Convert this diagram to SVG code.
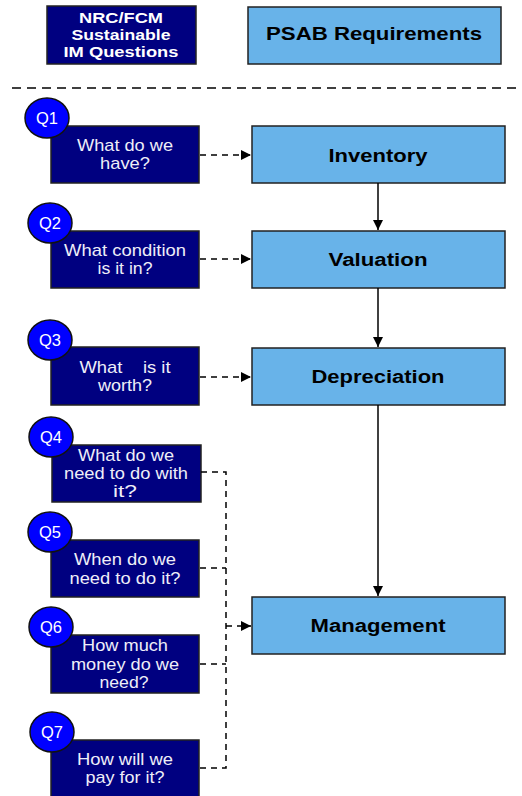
<svg xmlns="http://www.w3.org/2000/svg" width="522" height="796" viewBox="0 0 522 796">
<defs>
<marker id="ah" viewBox="0 0 10 10" refX="10" refY="5" markerWidth="10" markerHeight="10" markerUnits="userSpaceOnUse" orient="auto">
<path d="M0,0 L10,5 L0,10 Z" fill="#000"/>
</marker>
</defs>
<style>
.q rect{fill:#000080;stroke:#222;stroke-width:1.5}
.q ellipse{fill:#0000FF;stroke:#111;stroke-width:1.5}
.q text{fill:#EEEEF8;font-family:"Liberation Sans",Arial,sans-serif;font-size:17px;text-anchor:middle;white-space:pre}
.q text.n{fill:#fff;font-size:16.5px}
.h text{fill:#fff;font-family:"Liberation Sans",Arial,sans-serif;font-size:15.5px;font-weight:bold;text-anchor:middle}
.p rect{fill:#68B3E9;stroke:#222;stroke-width:1.5}
.p text{fill:#000;font-family:"Liberation Sans",Arial,sans-serif;font-size:18px;font-weight:bold;text-anchor:middle}
.d{fill:none;stroke:#000;stroke-width:1.5;stroke-dasharray:6,5}
.s{fill:none;stroke:#000;stroke-width:1.5}
</style>
<rect width="522" height="796" fill="#fff"/>
<g id="hdr-left" class="q h">
<rect x="47" y="6" width="149" height="58"/>
<text x="121" y="23" textLength="84" lengthAdjust="spacingAndGlyphs">NRC/FCM</text>
<text x="121" y="40" textLength="99" lengthAdjust="spacingAndGlyphs">Sustainable</text>
<text x="121" y="57" textLength="115" lengthAdjust="spacingAndGlyphs">IM Questions</text>
</g>
<g id="hdr-right" class="p">
<rect x="248" y="7" width="253" height="57"/>
<text x="374" y="40" textLength="216" lengthAdjust="spacingAndGlyphs">PSAB Requirements</text>
</g>
<line x1="12" y1="88" x2="522" y2="88" stroke="#000" stroke-width="1.5" stroke-dasharray="9,6"/>

<g id="q1" class="q">
<rect x="51" y="126" width="148" height="57"/>
<ellipse cx="47" cy="118" rx="22" ry="20"/>
<text class="n" x="47" y="124">Q1</text>
<text x="125" y="151" textLength="96" lengthAdjust="spacingAndGlyphs">What do we</text>
<text x="125" y="169" textLength="50" lengthAdjust="spacingAndGlyphs">have?</text>
</g>
<g id="q2" class="q">
<rect x="51" y="231" width="148" height="57"/>
<ellipse cx="50" cy="223" rx="22" ry="20"/>
<text class="n" x="50" y="229">Q2</text>
<text x="125" y="256" textLength="122" lengthAdjust="spacingAndGlyphs">What condition</text>
<text x="125" y="274" textLength="55" lengthAdjust="spacingAndGlyphs">is it in?</text>
</g>
<g id="q3" class="q">
<rect x="51" y="347" width="148" height="58"/>
<ellipse cx="50" cy="340" rx="22" ry="20"/>
<text class="n" x="50" y="346">Q3</text>
<text x="125" y="373" textLength="91" lengthAdjust="spacingAndGlyphs">What    is it</text>
<text x="125" y="391" textLength="54" lengthAdjust="spacingAndGlyphs">worth?</text>
</g>
<g id="q4" class="q">
<rect x="52" y="445" width="149" height="57"/>
<ellipse cx="51" cy="437" rx="22" ry="20"/>
<text class="n" x="51" y="443">Q4</text>
<text x="126" y="461" textLength="96" lengthAdjust="spacingAndGlyphs">What do we</text>
<text x="126" y="479" textLength="124" lengthAdjust="spacingAndGlyphs">need to do with</text>
<text x="125" y="497" textLength="24" lengthAdjust="spacingAndGlyphs">it?</text>
</g>
<g id="q5" class="q">
<rect x="51" y="540" width="148" height="57"/>
<ellipse cx="50" cy="532" rx="22" ry="20"/>
<text class="n" x="50" y="538">Q5</text>
<text x="125" y="565" textLength="102" lengthAdjust="spacingAndGlyphs">When do we</text>
<text x="125" y="584" textLength="111" lengthAdjust="spacingAndGlyphs">need to do it?</text>
</g>
<g id="q6" class="q">
<rect x="51" y="635" width="148" height="58"/>
<ellipse cx="51" cy="627" rx="22" ry="20"/>
<text class="n" x="51" y="633">Q6</text>
<text x="125" y="651" textLength="86" lengthAdjust="spacingAndGlyphs">How much</text>
<text x="125" y="670" textLength="108" lengthAdjust="spacingAndGlyphs">money do we</text>
<text x="124" y="688" textLength="49" lengthAdjust="spacingAndGlyphs">need?</text>
</g>
<g id="q7" class="q">
<rect x="51" y="740" width="148" height="60"/>
<ellipse cx="52" cy="732" rx="22" ry="20"/>
<text class="n" x="52" y="738">Q7</text>
<text x="125" y="765" textLength="96" lengthAdjust="spacingAndGlyphs">How will we</text>
<text x="125" y="783" textLength="79" lengthAdjust="spacingAndGlyphs">pay for it?</text>
</g>

<g id="inventory" class="p">
<rect x="252" y="126" width="253" height="57"/>
<text x="378" y="162" textLength="99" lengthAdjust="spacingAndGlyphs">Inventory</text>
</g>
<g id="valuation" class="p">
<rect x="252" y="231" width="253" height="57"/>
<text x="378" y="266" textLength="99" lengthAdjust="spacingAndGlyphs">Valuation</text>
</g>
<g id="depreciation" class="p">
<rect x="252" y="348" width="253" height="57"/>
<text x="378" y="383" textLength="133" lengthAdjust="spacingAndGlyphs">Depreciation</text>
</g>
<g id="management" class="p">
<rect x="252" y="597" width="253" height="57"/>
<text x="378" y="632" textLength="135" lengthAdjust="spacingAndGlyphs">Management</text>
</g>

<g id="connectors">
<line class="d" x1="200" y1="155" x2="251" y2="155" marker-end="url(#ah)"/>
<line class="d" x1="200" y1="259" x2="251" y2="259" marker-end="url(#ah)"/>
<line class="d" x1="200" y1="377" x2="251" y2="377" marker-end="url(#ah)"/>
<line class="s" x1="378" y1="183" x2="378" y2="230" marker-end="url(#ah)"/>
<line class="s" x1="378" y1="288" x2="378" y2="347" marker-end="url(#ah)"/>
<line class="s" x1="378" y1="405" x2="378" y2="596" marker-end="url(#ah)"/>
<polyline class="d" points="201,472 226,472 226,768 200,768"/>
<line class="d" x1="200" y1="568" x2="226" y2="568"/>
<line class="d" x1="200" y1="664" x2="226" y2="664"/>
<line class="d" x1="226" y1="626" x2="251" y2="626" stroke-dasharray="none" marker-end="url(#ah)"/>
</g>
</svg>
